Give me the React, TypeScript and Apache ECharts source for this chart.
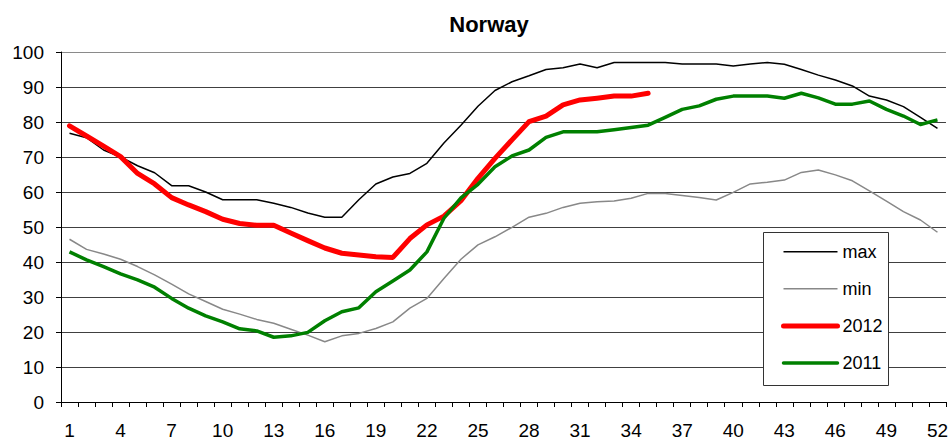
import React, { useEffect, useRef } from "react";
import * as echarts from "echarts";

const weeks: string[] = Array.from({ length: 52 }, (_, i) => String(i + 1));

const maxValues: number[] = [
  76.8, 75.5, 72, 70, 67.5, 65.5, 61.8, 61.8, 60, 57.8, 57.8, 57.8, 56.8, 55.6, 54, 52.8,
  52.8, 57.8, 62.3, 64.3, 65.3, 68.2, 74, 79.1, 84.5, 89, 91.5, 93.2, 95, 95.5, 96.6, 95.5,
  97, 97, 97, 97, 96.6, 96.6, 96.6, 96, 96.6, 97, 96.5, 95, 93.4, 92, 90.3, 87.4, 86.3,
  84.4, 81.3, 78.2,
];

const minValues: number[] = [
  46.5, 43.6, 42.3, 40.8, 38.7, 36.3, 33.7, 30.9, 28.7, 26.5, 25.1, 23.6, 22.5, 20.8, 19.1,
  17.2, 18.9, 19.6, 21, 22.9, 26.8, 29.6, 35.3, 40.8, 44.9, 47.2, 49.9, 52.8, 53.9, 55.6,
  56.8, 57.2, 57.4, 58.2, 59.6, 59.6, 59, 58.4, 57.7, 59.9, 62.3, 62.8, 63.4, 65.6, 66.3,
  64.9, 63.2, 60.3, 57.4, 54.4, 52, 48.5,
];

const values2012: number[] = [
  78.9, 76, 73.1, 70.1, 65.3, 62.3, 58.4, 56.3, 54.4, 52.2, 51, 50.5, 50.5, 48.3, 46.1, 44,
  42.5, 42, 41.5, 41.3, 46.7, 50.6, 53.1, 57.5, 63.9, 69.6, 74.9, 80.1, 81.7, 84.9, 86.3,
  86.8, 87.4, 87.4, 88.2,
];

const values2011: number[] = [
  42.9, 40.6, 38.7, 36.6, 34.9, 32.8, 29.6, 26.8, 24.6, 22.9, 20.9, 20.3, 18.5, 18.9, 19.9,
  23.2, 25.8, 26.9, 31.5, 34.6, 37.7, 42.9, 52.5, 58.3, 62.2, 67.2, 70.3, 72, 75.6, 77.2,
  77.2, 77.2, 77.8, 78.4, 79.1, 81.3, 83.6, 84.6, 86.5, 87.4, 87.4, 87.4, 86.8, 88.2, 86.9,
  85.1, 85.1, 86, 83.6, 81.7, 79.3, 80.6,
];

const yTicks: number[] = [0, 10, 20, 30, 40, 50, 60, 70, 80, 90, 100];

export default function App() {
  const ref = useRef<HTMLDivElement>(null);

  useEffect(() => {
    if (!ref.current) return;
    const chart = echarts.init(ref.current, undefined, { renderer: "svg" });
    const font = "'Liberation Sans', Arial, sans-serif";
    const splitColors = yTicks.map((v) => (v === 100 ? "#8a8a8a" : "#404040"));
    chart.setOption({
      animation: false,
      backgroundColor: "#ffffff",
      title: {
        text: "Norway",
        left: 484,
        textAlign: "center",
        top: 8,
        textStyle: { fontFamily: font, fontWeight: "bold", fontSize: 22, color: "#000" },
      },
      grid: { left: 61, right: 1, top: 52, bottom: 43, containLabel: false },
      graphic: [
        {
          type: "rect",
          z: 3,
          shape: { x: 763.5, y: 232.5, width: 125, height: 153 },
          style: { fill: "#ffffff", stroke: "#333333", lineWidth: 1 },
        },
      ],
      legend: {
        z: 5,
        orient: "vertical",
        left: 781,
        top: 242.7,
        padding: 0,
        itemGap: 19.1,
        itemWidth: 54,
        itemHeight: 14,
        itemStyle: { opacity: 0 },
        textStyle: { fontFamily: font, fontSize: 18, color: "#000" },
        data: [
          { name: "max", lineStyle: { width: 1.5 } },
          { name: "min", lineStyle: { width: 1.5 } },
          { name: "2012", lineStyle: { width: 5, cap: "round" } },
          { name: "2011", lineStyle: { width: 3.5, cap: "round" } },
        ],
      },
      xAxis: {
        type: "category",
        data: weeks,
        boundaryGap: true,
        axisLine: { lineStyle: { color: "#000", width: 1 } },
        axisTick: { show: true, interval: 0, length: 5, lineStyle: { color: "#000" } },
        axisLabel: {
          interval: 2,
          margin: 19,
          fontFamily: font,
          fontSize: 19,
          color: "#000",
        },
        splitLine: { show: false },
      },
      yAxis: {
        type: "value",
        min: 0,
        max: 100,
        interval: 10,
        axisLine: { show: true, lineStyle: { color: "#000", width: 1 } },
        axisTick: { show: true, length: 5, lineStyle: { color: "#000" } },
        axisLabel: { margin: 17, fontFamily: font, fontSize: 19, color: "#000" },
        splitLine: { show: true, lineStyle: { color: splitColors, width: 1 } },
      },
      series: [
        {
          name: "max",
          type: "line",
          data: maxValues,
          symbol: "none",
          color: "#000000",
          lineStyle: { color: "#000000", width: 1.5 },
        },
        {
          name: "min",
          type: "line",
          data: minValues,
          symbol: "none",
          color: "#888888",
          lineStyle: { color: "#888888", width: 1.5 },
        },
        {
          name: "2012",
          type: "line",
          data: values2012,
          symbol: "none",
          color: "#ff0000",
          lineStyle: { color: "#ff0000", width: 5, cap: "round", join: "round" },
        },
        {
          name: "2011",
          type: "line",
          data: values2011,
          symbol: "none",
          color: "#008000",
          lineStyle: { color: "#008000", width: 3.5, join: "round" },
        },
      ],
    });
    return () => chart.dispose();
  }, []);

  return (
    <div
      ref={ref}
      style={{ position: "fixed", left: 0, top: 0, width: 951, height: 445 }}
    />
  );
}
